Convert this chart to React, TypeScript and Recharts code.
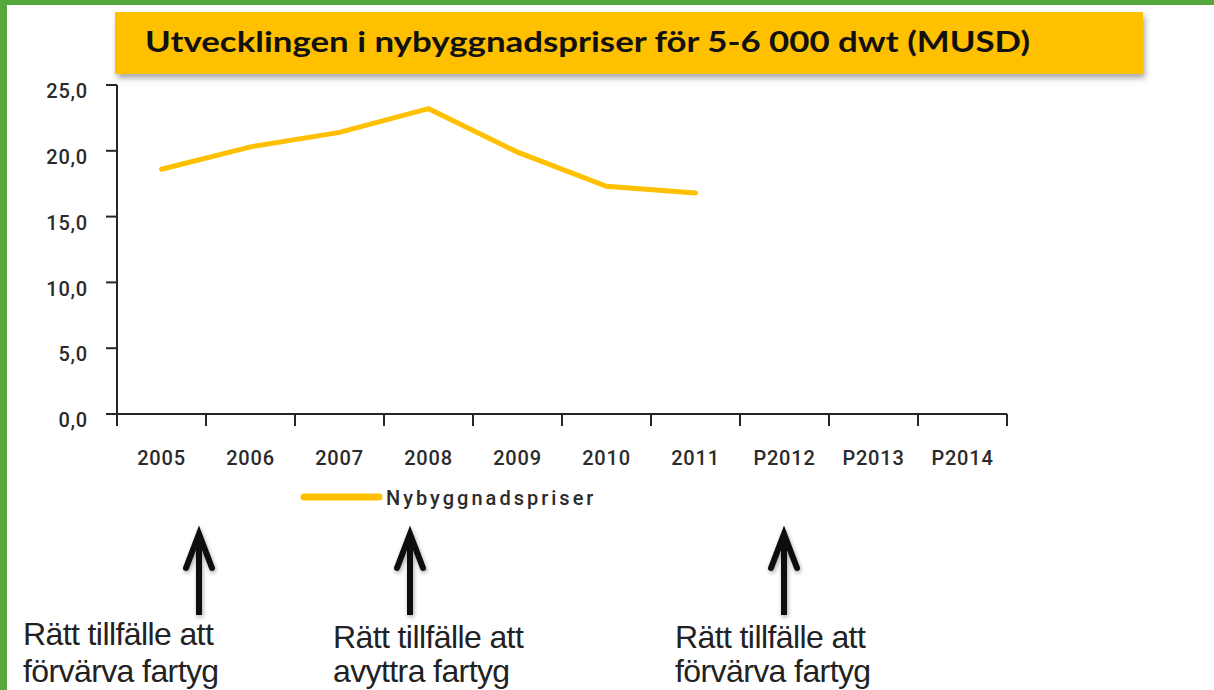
import { LineChart, Line, XAxis, YAxis } from "recharts";

const years = ["2005", "2006", "2007", "2008", "2009", "2010", "2011", "P2012", "P2013", "P2014"];
const prices = [18.6, 20.3, 21.4, 23.2, 19.9, 17.3, 16.8, null, null, null];
const yTicks = [0, 5, 10, 15, 20, 25];
const seriesName = "Nybyggnadspriser";
const title = "Utvecklingen i nybyggnadspriser för 5-6 000 dwt (MUSD)";
const noteTexts = [
  ["Rätt tillfälle att", "förvärva fartyg"],
  ["Rätt tillfälle att", "avyttra fartyg"],
  ["Rätt tillfälle att", "förvärva fartyg"],
];

const data = years.map((year, i) => ({ year, price: prices[i] }));

const W = 1214;
const H = 690;
const LINE_COLOR = "#FFC000";
const AXIS_COLOR = "#262626";
const PLOT_LEFT = 117;
const PLOT_RIGHT = 1007;
const BAND = (PLOT_RIGHT - PLOT_LEFT) / years.length;
const X_TICK = 12;
const X_MARGIN = 25;
const labelFont = { fontFamily: "Roboto", fontWeight: 500, fontSize: 20, letterSpacing: 0.8, fill: "#2b2b2b" };

// arrows + captions under the chart
const notes = [
  { arrowX: 199, textX: 23, y1: 645 },
  { arrowX: 410, textX: 333, y1: 648 },
  { arrowX: 784, textX: 675, y1: 648 },
];

function XTick(props: any) {
  const { x, y, payload, index } = props;
  const axisY = y - X_TICK - X_MARGIN;
  const left = x - BAND / 2;
  const right = x + BAND / 2;
  return (
    <g>
      <line x1={left} x2={left} y1={axisY} y2={axisY + X_TICK} stroke={AXIS_COLOR} strokeWidth={2} />
      {index === years.length - 1 && (
        <line x1={right} x2={right} y1={axisY} y2={axisY + X_TICK} stroke={AXIS_COLOR} strokeWidth={2} />
      )}
      <text x={x} y={y} dy="0.71em" textAnchor="middle" {...labelFont}>
        {payload.value}
      </text>
    </g>
  );
}

function YTick(props: any) {
  const { x, y, payload } = props;
  return (
    <text x={x} y={y + 6} dy="0.355em" textAnchor="end" {...labelFont}>
      {Number(payload.value).toFixed(1).replace(".", ",")}
    </text>
  );
}

function Arrow({ x }: { x: number }) {
  return (
    <g stroke="#111" fill="none" filter="url(#soft)">
      <line x1={x} x2={x} y1={538} y2={615} strokeWidth={6} />
      <polyline
        points={`${x - 13},568 ${x},534 ${x + 13},568`}
        strokeWidth={6}
        strokeLinejoin="miter"
        strokeLinecap="round"
      />
    </g>
  );
}

export default function App() {
  return (
    <div style={{ position: "absolute", left: 0, top: 0, width: W, height: H, background: "#fff", overflow: "hidden" }}>
      <div style={{ position: "absolute", left: 0, top: 0, width: W, height: 5, background: "#57A83C" }} />
      <div style={{ position: "absolute", left: 0, top: 0, width: 7, height: H, background: "#57A83C" }} />
      <div
        style={{
          position: "absolute",
          left: 115,
          top: 12,
          width: 1028,
          height: 62,
          background: "#FFC000",
          boxShadow: "2px 4px 6px rgba(0,0,0,0.35)",
        }}
      />
      <LineChart
        width={W}
        height={H}
        data={data}
        margin={{ top: 85, right: W - PLOT_RIGHT, bottom: 216, left: 17 }}
        style={{ position: "absolute", left: 0, top: 0 }}
      >
        <XAxis
          dataKey="year"
          scale="band"
          interval={0}
          height={60}
          tickLine={false}
          tickSize={X_TICK}
          tickMargin={X_MARGIN}
          axisLine={{ stroke: AXIS_COLOR, strokeWidth: 2 }}
          tick={<XTick />}
        />
        <YAxis
          width={100}
          domain={[0, 25]}
          ticks={yTicks}
          interval={0}
          tickSize={11}
          tickMargin={18}
          axisLine={{ stroke: AXIS_COLOR, strokeWidth: 2 }}
          tickLine={{ stroke: AXIS_COLOR, strokeWidth: 2 }}
          tick={<YTick />}
        />
        <Line
          type="linear"
          dataKey="price"
          name={seriesName}
          stroke={LINE_COLOR}
          strokeWidth={5}
          strokeLinecap="round"
          dot={false}
          isAnimationActive={false}
        />
      </LineChart>
      <svg width={W} height={H} style={{ position: "absolute", left: 0, top: 0, pointerEvents: "none" }}>
        <defs>
          <filter id="soft" x="-50%" y="-20%" width="200%" height="140%">
            <feGaussianBlur in="SourceAlpha" stdDeviation="2" />
            <feOffset dx="1" dy="2" result="b" />
            <feComponentTransfer>
              <feFuncA type="linear" slope="0.35" />
            </feComponentTransfer>
            <feMerge>
              <feMergeNode />
              <feMergeNode in="SourceGraphic" />
            </feMerge>
          </filter>
        </defs>
        <text
          x={145}
          y={52}
          textLength={885}
          lengthAdjust="spacingAndGlyphs"
          fontFamily="Lato, sans-serif"
          fontWeight={700}
          fontSize={29}
          fill="#111"
        >
          {title}
        </text>
        <line x1={304} x2={379} y1={497} y2={497} stroke={LINE_COLOR} strokeWidth={7} strokeLinecap="round" />
        <text x={386} y={498} dy="0.355em" {...labelFont} fontSize={20} letterSpacing={3}>
          {seriesName}
        </text>
        {notes.map((n, i) => (
          <g key={i}>
            <Arrow x={n.arrowX} />
            {noteTexts[i].map((t, j) => (
              <text
                key={j}
                x={n.textX}
                y={j === 0 ? n.y1 : 682}
                fontFamily="'Liberation Sans', Arial, sans-serif"
                fontSize={32}
                letterSpacing={-0.6}
                fill="#222"
              >
                {t}
              </text>
            ))}
          </g>
        ))}
      </svg>
    </div>
  );
}
